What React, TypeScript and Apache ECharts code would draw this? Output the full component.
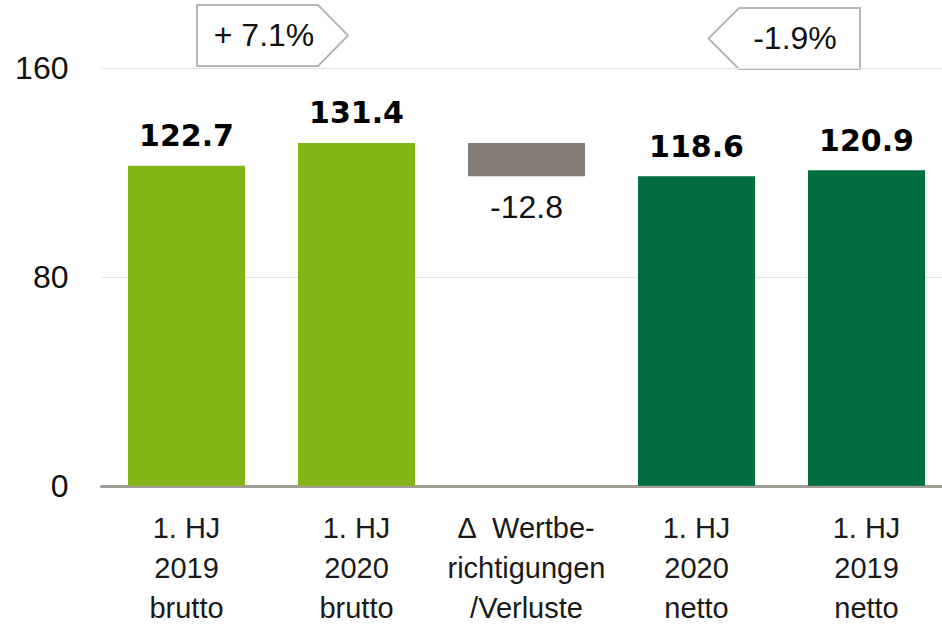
import React, { useEffect, useRef } from "react";
import * as echarts from "echarts";

const categories = [
  "1. HJ\n2019\nbrutto",
  "1. HJ\n2020\nbrutto",
  "∆  Wertbe-\nrichtigungen\n/Verluste",
  "1. HJ\n2020\nnetto",
  "1. HJ\n2019\nnetto",
];
const values = [122.7, 131.4, -12.8, 118.6, 120.9];
const colors = ["#84b518", "#84b518", "#857c76", "#006e3c", "#006e3c"];
const yTicks = [0, 80, 160];
const callouts = ["+ 7.1%", "-1.9%"];

export default function App() {
  const ref = useRef<HTMLDivElement>(null);
  useEffect(() => {
    if (!ref.current) return;
    const chart = echarts.init(ref.current, null, { renderer: "svg" });

    const base = values.map((v, i) => (v < 0 ? values[i - 1] + v : 0));
    const shown = values.map((v) => Math.abs(v));

    const valueFont = "'DejaVu Sans', sans-serif";
    const tickFont = "'Liberation Sans', Arial, sans-serif";
    const catFont = "'Liberation Sans', Arial, sans-serif";

    chart.setOption({
      animation: false,
      grid: {
        left: 101.5,
        top: 68.3,
        width: 850,
        height: 417.5,
        containLabel: false,
        outerBoundsMode: "none",
      },
      xAxis: {
        type: "category",
        data: categories,
        axisLine: { show: true, lineStyle: { color: "#a39d97", width: 3 } },
        axisTick: { show: false },
        axisLabel: {
          interval: 0,
          margin: 22,
          fontSize: 29,
          lineHeight: 40,
          fontFamily: catFont,
          color: "#1a1a1a",
        },
      },
      yAxis: {
        type: "value",
        min: yTicks[0],
        max: yTicks[yTicks.length - 1],
        interval: 80,
        axisLine: { show: false },
        axisTick: { show: false },
        axisLabel: { margin: 33, fontSize: 32, fontFamily: tickFont, color: "#111" },
        splitLine: { lineStyle: { color: "#e2e2e2", width: 1 } },
      },
      series: [
        {
          type: "bar",
          stack: "w",
          barWidth: 117,
          silent: true,
          itemStyle: { color: "transparent" },
          data: base,
        },
        {
          type: "bar",
          stack: "w",
          barWidth: 117,
          data: shown.map((v, i) => ({
            value: v,
            itemStyle: { color: colors[i] },
            label:
              values[i] < 0
                ? {
                    show: true,
                    position: "bottom",
                    distance: 15,
                    formatter: values[i].toFixed(1),
                    fontSize: 32,
                    fontWeight: "normal",
                    fontFamily: tickFont,
                    color: "#111",
                  }
                : {
                    show: true,
                    position: "top",
                    distance: 15,
                    formatter: values[i].toFixed(1),
                    fontSize: 30,
                    fontWeight: "bold",
                    fontFamily: valueFont,
                    color: "#000",
                  },
          })),
        },
      ],
      graphic: [
        {
          type: "group",
          children: [
            {
              type: "polygon",
              shape: { points: [[197, 5], [318, 5], [348, 35.5], [318, 66], [197, 66]] },
              style: { fill: "#fff", stroke: "#bab5b0", lineWidth: 2 },
            },
            {
              type: "text",
              x: 264,
              y: 35,
              style: {
                text: callouts[0],
                fontSize: 32,
                fontFamily: tickFont,
                fill: "#111",
                align: "center",
                verticalAlign: "middle",
              },
            },
          ],
        },
        {
          type: "group",
          children: [
            {
              type: "polygon",
              shape: { points: [[708.5, 38.5], [739, 8], [860, 8], [860, 69], [739, 69]] },
              style: { fill: "#fff", stroke: "#bab5b0", lineWidth: 2 },
            },
            {
              type: "text",
              x: 795,
              y: 38,
              style: {
                text: callouts[1],
                fontSize: 32,
                fontFamily: tickFont,
                fill: "#111",
                align: "center",
                verticalAlign: "middle",
              },
            },
          ],
        },
      ],
    });
    return () => chart.dispose();
  }, []);
  return (
    <div
      ref={ref}
      style={{ position: "absolute", left: 0, top: 0, width: 942, height: 626, overflow: "hidden" }}
    />
  );
}
